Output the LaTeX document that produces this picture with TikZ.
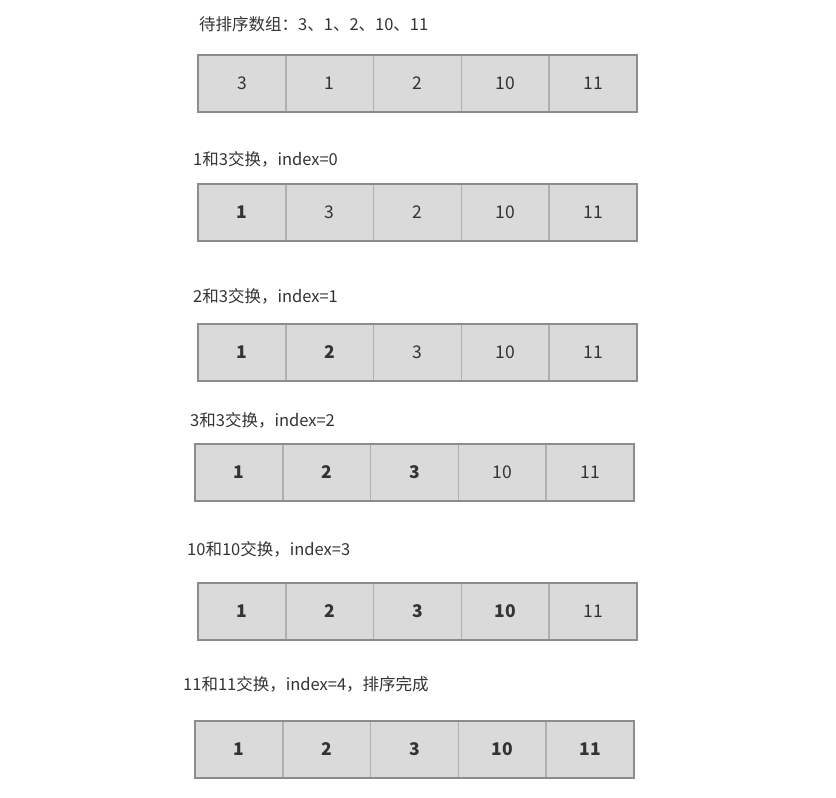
\documentclass[tikz,border=0pt]{standalone}
\usepackage{fontspec}
\setmainfont{Noto Sans CJK SC}
\definecolor{cellfill}{HTML}{DADADA}
\definecolor{outer}{HTML}{8C8C8C}
\definecolor{inner}{HTML}{B0B0B0}
\definecolor{txt}{HTML}{333333}
\tikzset{
  cell/.style={draw=inner, line width=1.6pt, fill=cellfill, minimum width=87.8pt, minimum height=57pt, inner sep=0pt, outer sep=0pt, text=txt, font=\fontsize{17.5}{17.5}\selectfont},
  bd/.style={font=\bfseries\fontsize{17.5}{17.5}\selectfont},
  lbl/.style={anchor=west, inner sep=0pt, text=txt, font=\fontsize{16.5}{16.5}\selectfont},
  frame/.style={draw=outer, line width=2pt}
}
\begin{document}
\begin{tikzpicture}[x=1pt,y=-1pt]
\useasboundingbox (0,0) rectangle (836,798);
% Row 1
\node[lbl] (l1) at (199,24) {待排序数组：3、1、2、10、11};
\node[cell] (r1c1) at (241.9,83.5) {3};
\node[cell] (r1c2) at (329.7,83.5) {1};
\node[cell] (r1c3) at (417.5,83.5) {2};
\node[cell] (r1c4) at (505.3,83.5) {10};
\node[cell] (r1c5) at (593.1,83.5) {11};
\draw[frame] (r1c1.north west) rectangle (r1c5.south east);
% Row 2
\node[lbl] (l2) at (193,159) {1和3交换，index=0};
\node[cell,bd] (r2c1) at (241.9,212) {1};
\node[cell] (r2c2) at (329.7,212) {3};
\node[cell] (r2c3) at (417.5,212) {2};
\node[cell] (r2c4) at (505.3,212) {10};
\node[cell] (r2c5) at (593.1,212) {11};
\draw[frame] (r2c1.north west) rectangle (r2c5.south east);
% Row 3
\node[lbl] (l3) at (193,296) {2和3交换，index=1};
\node[cell,bd] (r3c1) at (241.9,352) {1};
\node[cell,bd] (r3c2) at (329.7,352) {2};
\node[cell] (r3c3) at (417.5,352) {3};
\node[cell] (r3c4) at (505.3,352) {10};
\node[cell] (r3c5) at (593.1,352) {11};
\draw[frame] (r3c1.north west) rectangle (r3c5.south east);
% Row 4
\node[lbl] (l4) at (190,420) {3和3交换，index=2};
\node[cell,bd] (r4c1) at (238.9,472) {1};
\node[cell,bd] (r4c2) at (326.7,472) {2};
\node[cell,bd] (r4c3) at (414.5,472) {3};
\node[cell] (r4c4) at (502.3,472) {10};
\node[cell] (r4c5) at (590.1,472) {11};
\draw[frame] (r4c1.north west) rectangle (r4c5.south east);
% Row 5
\node[lbl] (l5) at (187,549) {10和10交换，index=3};
\node[cell,bd] (r5c1) at (241.9,611) {1};
\node[cell,bd] (r5c2) at (329.7,611) {2};
\node[cell,bd] (r5c3) at (417.5,611) {3};
\node[cell,bd] (r5c4) at (505.3,611) {10};
\node[cell] (r5c5) at (593.1,611) {11};
\draw[frame] (r5c1.north west) rectangle (r5c5.south east);
% Row 6
\node[lbl] (l6) at (183,684) {11和11交换，index=4，排序完成};
\node[cell,bd] (r6c1) at (238.9,749) {1};
\node[cell,bd] (r6c2) at (326.7,749) {2};
\node[cell,bd] (r6c3) at (414.5,749) {3};
\node[cell,bd] (r6c4) at (502.3,749) {10};
\node[cell,bd] (r6c5) at (590.1,749) {11};
\draw[frame] (r6c1.north west) rectangle (r6c5.south east);
\end{tikzpicture}
\end{document}
